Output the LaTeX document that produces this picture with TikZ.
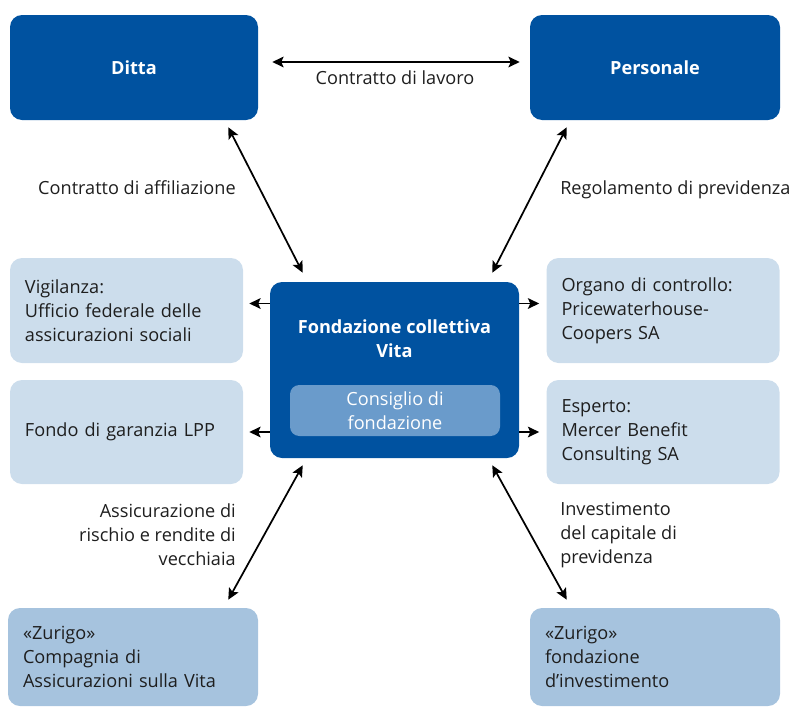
\documentclass[tikz,border=0pt]{standalone}
\usepackage{fontspec}
\setmainfont{Open Sans}
\usetikzlibrary{arrows.meta,calc}
\definecolor{zdark}{HTML}{0052A0}
\definecolor{zlight}{HTML}{CCDDEC}
\definecolor{zmid}{HTML}{A6C3DE}
\definecolor{zinner}{HTML}{6A9BCB}
\definecolor{ztext}{HTML}{1E1E1E}
\newcommand{\zfont}{\fontsize{13.6}{18}\selectfont}
\tikzset{
  box/.style = {rounded corners=9pt, inner xsep=11.25pt, inner ysep=0pt, font=\zfont},
  dark_n/.style = {box, fill=zdark, text=white, font=\zfont\bfseries, align=center},
  light_n/.style = {box, fill=zlight, text=ztext, align=left, text width=152.25pt, minimum width=174.75pt},
  mid_n/.style = {box, fill=zmid, text=ztext, align=left, text width=165pt, minimum width=187.5pt, minimum height=73.5pt},
  lbl/.style = {text=ztext, inner sep=0pt, font=\zfont},
  conn/.style = {{Stealth[length=8.5pt,width=8pt,inset=1.8pt]}-{Stealth[length=8.5pt,width=8pt,inset=1.8pt]}, line width=1.3pt},
  outconn/.style = {-{Stealth[length=8.5pt,width=8pt,inset=1.8pt]}, line width=1.3pt}
}
\begin{document}
\begin{tikzpicture}[x=0.75pt,y=-0.75pt]
\clip (0,0) rectangle (793,707);
\useasboundingbox (0,0) rectangle (793,707);

% top row
\node [dark_n, minimum width=186pt, minimum height=78.75pt] (ditta) at (134,67.5) {Ditta};
\node [dark_n, minimum width=187.5pt, minimum height=78.75pt] (personale) at (655,67.5) {Personale};

% foundation in the middle
\node [dark_n, minimum width=186.75pt, minimum height=132pt] (vita) at (394.5,370) {};
\node [lbl, text=white, font=\zfont\bfseries, align=center] (vitatitle) at (394.5,338.5) {Fondazione collettiva\\Vita};
\node [box, fill=zinner, text=white, align=center, minimum width=157.5pt, minimum height=38.25pt, rounded corners=7pt] (consiglio) at (395,410.5) {Consiglio di\\fondazione};

% side boxes
\node [light_n, minimum height=78.75pt] (vigil) at (126.5,310.5) {Vigilanza:\\Ufficio federale delle\\assicurazioni sociali};
\node [light_n, minimum height=78pt] (fondo) at (126.5,432) {Fondo di garanzia LPP};
\node [light_n, minimum height=78.75pt] (organo) at (663,310.5) {Organo di controllo:\\Pricewaterhouse-\\Coopers SA};
\node [light_n, minimum height=78pt] (esperto) at (663,432) {Esperto:\\Mercer Benefit\\Consulting SA};

% bottom row
\node [mid_n] (zurlv) at (133,657) {«Zurigo»\\Compagnia di\\Assicurazioni sulla Vita};
\node [mid_n] (zurfi) at (655,657) {«Zurigo»\\fondazione\\d’investimento};

% connectors
\draw [conn] ([shift={(14,-5.5)}]ditta.east) -- ([shift={(-10,-5.5)}]personale.west);
\draw [conn] ([shift={(-30,7)}]ditta.south east) -- ([shift={(33,-9)}]vita.north west);
\draw [conn] ([shift={(37,7)}]personale.south west) -- ([shift={(-27,-9)}]vita.north east);
\draw [conn] ([shift={(33,7)}]vita.south west) -- ([shift={(-30,-8)}]zurlv.north east);
\draw [conn] ([shift={(-27,7)}]vita.south east) -- ([shift={(37,-8)}]zurfi.north west);
\draw [outconn] ($(vita.west |- vigil.east)+(0,-7)$) -- ($(vigil.east)+(6,-7)$);
\draw [outconn] (vita.west |- fondo.east) -- ([xshift=4.5pt]fondo.east);
\draw [outconn] ($(vita.east |- organo.west)+(0,-7)$) -- ($(organo.west)+(-7,-7)$);
\draw [outconn] (vita.east |- esperto.west) -- ([xshift=-5.25pt]esperto.west);

% connector labels
\node [lbl] (lavoro) at (395,78) {Contratto di lavoro};
\node [lbl, anchor=east] (affil) at (236,188) {Contratto di affiliazione};
\node [lbl, anchor=west] (regol) at (560,190) {Regolamento di previdenza};
\node [lbl, anchor=east, align=right] (rischio) at (236,535) {Assicurazione di\\rischio e rendite di\\vecchiaia};
\node [lbl, anchor=west, align=left] (invest) at (560,535) {Investimento\\del capitale di\\previdenza};
\end{tikzpicture}
\end{document}
